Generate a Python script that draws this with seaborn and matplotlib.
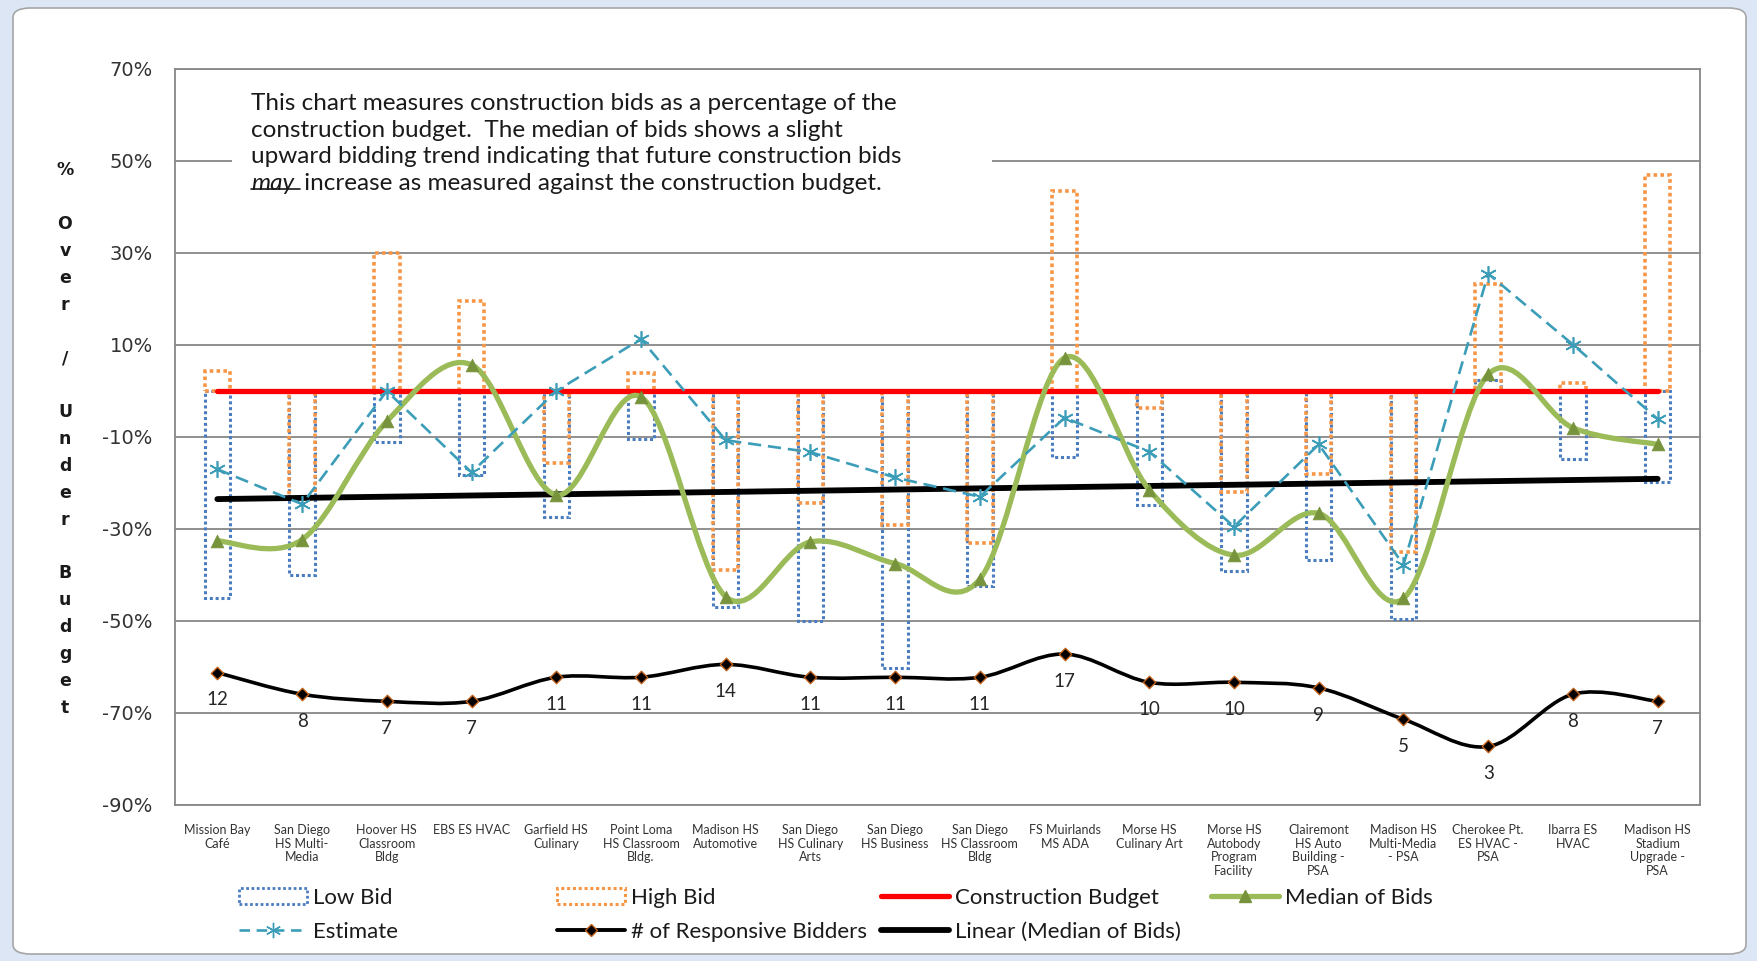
import numpy as np
import pandas as pd
import matplotlib
matplotlib.use("Agg")
import matplotlib.pyplot as plt
import seaborn as sns
from matplotlib.path import Path
from matplotlib.patches import PathPatch, Rectangle, FancyBboxPatch, Patch
from matplotlib.lines import Line2D
from matplotlib.transforms import IdentityTransform

# ---------------- data ----------------
projects = [
    "Mission Bay\nCafé", "San Diego\nHS Multi-\nMedia", "Hoover HS\nClassroom\nBldg",
    "EBS ES HVAC", "Garfield HS\nCulinary", "Point Loma\nHS Classroom\nBldg.",
    "Madison HS\nAutomotive", "San Diego\nHS Culinary\nArts", "San Diego\nHS Business",
    "San Diego\nHS Classroom\nBldg", "FS Muirlands\nMS ADA", "Morse HS\nCulinary Art",
    "Morse HS\nAutobody\nProgram\nFacility", "Clairemont\nHS Auto\nBuilding -\nPSA",
    "Madison HS\nMulti-Media\n- PSA", "Cherokee Pt.\nES HVAC -\nPSA", "Ibarra ES\nHVAC",
    "Madison HS\nStadium\nUpgrade -\nPSA",
]
low_bid = [-45.0, -40.0, -11.0, -18.3, -27.3, -10.5, -46.9, -50.1, -60.3, -42.4,
           -14.4, -24.8, -39.1, -36.7, -49.6, 2.5, -14.7, -19.7]
high_bid = [4.3, -23.5, 30.0, 19.5, -15.7, 4.0, -38.9, -24.4, -29.1, -33.0,
            43.5, -3.6, -21.9, -18.1, -34.9, 23.2, 1.8, 47.0]
estimate = [-17.0, -24.6, 0.0, -17.7, 0.0, 11.3, -10.7, -13.3, -18.8, -23.0,
            -5.8, -13.2, -29.5, -11.6, -37.8, 25.5, 10.1, -6.1]
median_bids = [-32.6, -32.3, -6.6, 5.7, -22.6, -1.3, -44.7, -32.8, -37.5, -40.9,
               7.2, -21.5, -35.7, -26.6, -45.1, 3.6, -8.0, -11.6]
construction_budget = [0.0] * 18
responsive_bidders = [12, 8, 7, 7, 11, 11, 14, 11, 11, 11, 17, 10, 10, 9, 5, 3, 8, 7]
y_ticks = [70, 50, 30, 10, -10, -30, -50, -70, -90]

note_lines = [
    "This chart measures construction bids as a percentage of the",
    "construction budget.  The median of bids shows a slight",
    "upward bidding trend indicating that future construction bids",
]
note_may = "may"
note_rest = " increase as measured against the construction budget."
y_title = "%\n\nO\nv\ne\nr\n\n/\n\nU\nn\nd\ne\nr\n\nB\nu\nd\ng\ne\nt"

# ---------------- style ----------------
sns.set_style("white")
plt.rcParams['font.family'] = ['Lato', 'DejaVu Sans']

BLUE = '#4A7CC0'
ORANGE = '#F79646'
RED = '#FF0000'
GREEN = '#9BBB59'
GREEN_D = '#77933C'
TEAL = '#3C9DB8'
GRID = '#878787'
TXT = '#1a1a1a'

W, H = 1758, 961
fig = plt.figure(figsize=(W / 100, H / 100), dpi=100)
fig.patch.set_facecolor('white')

# window frame
fig.add_artist(Rectangle((0, 0), 1, 1, transform=fig.transFigure, facecolor='#DCE6F4',
                         edgecolor='none', zorder=-10))
fig.add_artist(FancyBboxPatch((13 / W, 1 - 954 / H), (1746 - 13) / W, (954 - 8) / H,
                              boxstyle="round,pad=0,rounding_size=0.01",
                              transform=fig.transFigure, facecolor='white',
                              edgecolor='#A6A6A6', linewidth=1.2, zorder=-9))

L, R, T, B = 175, 1700, 69, 805
ax = fig.add_axes([L / W, 1 - B / H, (R - L) / W, (B - T) / H])
ax.set_facecolor('none')

pos = np.arange(len(projects))
df = pd.DataFrame({"pos": pos, "low": low_bid, "high": high_bid, "est": estimate,
                   "med": median_bids, "budget": construction_budget,
                   "bidders": responsive_bidders})

dot = (0, (1, 0.9))
sns.barplot(data=df, x="pos", y="low", ax=ax, width=0.3, fill=False, color=BLUE,
            linewidth=2.2, linestyle=dot, errorbar=None, orient="x", zorder=2)
sns.barplot(data=df, x="pos", y="high", ax=ax, width=0.3, fill=False, color=ORANGE,
            linewidth=2.6, linestyle=dot, errorbar=None, orient="x", zorder=2)
for p in ax.patches:
    p.set_facecolor('none')

# construction budget
sns.lineplot(data=df, x="pos", y="budget", ax=ax, color=RED, linewidth=3.8, zorder=3)

# linear trend of median
coef = np.polyfit(pos, median_bids, 1)
df["trend"] = np.polyval(coef, pos)
sns.lineplot(data=df, x="pos", y="trend", ax=ax, color='black', linewidth=4.2, zorder=3.5)


def smooth_path(xs, ys):
    xs = np.asarray(xs, float)
    ys = np.asarray(ys, float)
    n = len(xs)
    verts = [(xs[0], ys[0])]
    codes = [Path.MOVETO]
    for i in range(n - 1):
        i0 = max(i - 1, 0)
        i3 = min(i + 2, n - 1)
        c1 = (xs[i] + (xs[i + 1] - xs[i0]) / 6, ys[i] + (ys[i + 1] - ys[i0]) / 6)
        c2 = (xs[i + 1] - (xs[i3] - xs[i]) / 6, ys[i + 1] - (ys[i3] - ys[i]) / 6)
        verts += [c1, c2, (xs[i + 1], ys[i + 1])]
        codes += [Path.CURVE4] * 3
    return verts, codes


# median of bids (smoothed)
v, c = smooth_path(pos, median_bids)
ax.add_patch(PathPatch(Path(v, c), facecolor='none', edgecolor=GREEN, linewidth=3.8,
                       capstyle='round', joinstyle='round', zorder=4))
sns.scatterplot(data=df, x="pos", y="med", ax=ax, marker='^', s=85, color=GREEN_D,
                edgecolor=GREEN_D, linewidth=0.5, zorder=4.5, legend=False)

# estimate
sns.lineplot(data=df, x="pos", y="est", ax=ax, color=TEAL, linewidth=1.9,
             linestyle=(0, (5, 2.6)), marker=(6, 2, 0), markersize=12,
             markeredgecolor=TEAL, markeredgewidth=1.2, zorder=5)

ax.set_xlim(-0.5, len(projects) - 0.5)
ax.set_ylim(-90, 70)
ax.set_yticks(y_ticks)
ax.set_yticklabels([f"{t}%" for t in y_ticks], family='DejaVu Sans', fontsize=14,
                   color='#333333')
ax.set_xticks(pos)
ax.set_xticklabels(projects, fontsize=9, linespacing=1.14, color='#333333')
ax.set_xticks(np.arange(0.5, len(projects) - 1, 1), minor=True)
ax.tick_params(axis='x', which='both', length=0, pad=14)
ax.tick_params(axis='y', length=0, pad=16)
ax.set_xlabel("")
ax.set_ylabel("")
ax.set_axisbelow(True)
ax.grid(axis='y', which='major', color=GRID, linewidth=1.3)
ax.grid(axis='x', which='major', visible=False)
ax.grid(axis='x', which='minor', color='#C3D0E8', linewidth=0.9, linestyle=(0, (2, 1)))
for s in ax.spines.values():
    s.set_visible(True)
    s.set_color(GRID)
    s.set_linewidth(1.3)

# note box
ax.add_patch(Rectangle(((232 - L) / (R - L), (B - 206) / (B - T)),
                       (992 - 232) / (R - L), (206 - 81) / (B - T),
                       transform=ax.transAxes, facecolor='white', edgecolor='none',
                       zorder=1))

# responsive bidders on secondary log axis
ax2 = ax.twinx()
ax2.set_yscale('log')
ax2.set_ylim(1, 1e6)
ax2.set_yticks([])
ax2.minorticks_off()
ax2.tick_params(axis='y', which='both', length=0, labelright=False)
for s in ax2.spines.values():
    s.set_visible(False)
lv, lc = smooth_path(pos, np.log10(responsive_bidders))
lv = [(x, 10 ** y) for x, y in lv]
ax2.add_patch(PathPatch(Path(lv, lc), facecolor='none', edgecolor='black', linewidth=2.6,
                        capstyle='round', zorder=4))
sns.scatterplot(data=df, x="pos", y="bidders", ax=ax2, marker='D', s=40, color='black',
                edgecolor='#C0601A', linewidth=1.0, zorder=5, legend=False)
for i, n in enumerate(responsive_bidders):
    ax2.annotate(str(n), (pos[i], n), xytext=(0, -19.5), textcoords='offset points',
                 ha='center', va='center', fontsize=13.5, color='#262626')
ax2.set_ylabel("")
ax2.set_xlim(-0.5, len(projects) - 0.5)

# note text
NFS = 17.5
line_y = [104, 130.3, 156.6, 183]
for k, txt in enumerate(note_lines):
    fig.text(251 / W, 1 - line_y[k] / H, txt, fontsize=NFS, va='center', ha='left',
             color=TXT)
t_may = fig.text(251 / W, 1 - line_y[3] / H, note_may, fontsize=NFS, va='center',
                 ha='left', style='italic', color=TXT)
t_rest = ax.annotate(note_rest, xy=(1, 0), xycoords=t_may, xytext=(3, 0),
                     textcoords='offset points', va='bottom', ha='left', fontsize=NFS,
                     color=TXT, annotation_clip=False)

# y-axis title
fig.text(65 / W, 1 - 439 / H, y_title, ha='center', va='center', multialignment='center',
         fontsize=12.5, fontweight='bold', family='DejaVu Sans', linespacing=1.634,
         color=TXT)

# legends (one per column)
h_low = Patch(facecolor='none', edgecolor=BLUE, linestyle=dot, linewidth=2.0, label='Low Bid')
h_high = Patch(facecolor='none', edgecolor=ORANGE, linestyle=dot, linewidth=2.2, label='High Bid')
h_bud = Line2D([], [], color=RED, linewidth=3.8, label='Construction Budget')
h_med = Line2D([], [], color=GREEN, linewidth=3.8, marker='^', markersize=9,
               markerfacecolor=GREEN_D, markeredgecolor=GREEN_D, label='Median of Bids')
h_est = Line2D([], [], color=TEAL, linewidth=1.9, linestyle=(0, (4, 2.5)), marker=(6, 2, 0),
               markersize=11, markeredgecolor=TEAL, label='Estimate')
h_bid = Line2D([], [], color='black', linewidth=2.8, marker='D', markersize=6,
               markerfacecolor='black', markeredgecolor='#C0601A',
               label='# of Responsive Bidders')
h_lin = Line2D([], [], color='black', linewidth=4.2, label='Linear (Median of Bids)')
columns = [[h_low, h_est], [h_high, h_bid], [h_bud, h_lin], [h_med]]
col_x = [239, 557, 881, 1211]
for hs, cx in zip(columns, col_x):
    fig.legend(handles=hs, loc='upper left', bbox_to_anchor=(cx / W, 1 - 888 / H),
               frameon=False, fontsize=16, handlelength=3.06, handletextpad=0.27,
               labelspacing=0.62, borderpad=0, borderaxespad=0, ncol=1,
               labelcolor=TXT)

# underline for "may"
fig.canvas.draw()
bb = t_may.get_window_extent()
bb2 = t_rest.get_window_extent()
uy = bb.y0 + 0.2 * bb.height
fig.add_artist(Line2D([bb.x0, bb2.x0 + 2], [uy, uy], transform=IdentityTransform(),
                      color=TXT, linewidth=1.2))

fig.savefig("out.png", dpi=100, facecolor=fig.get_facecolor())
